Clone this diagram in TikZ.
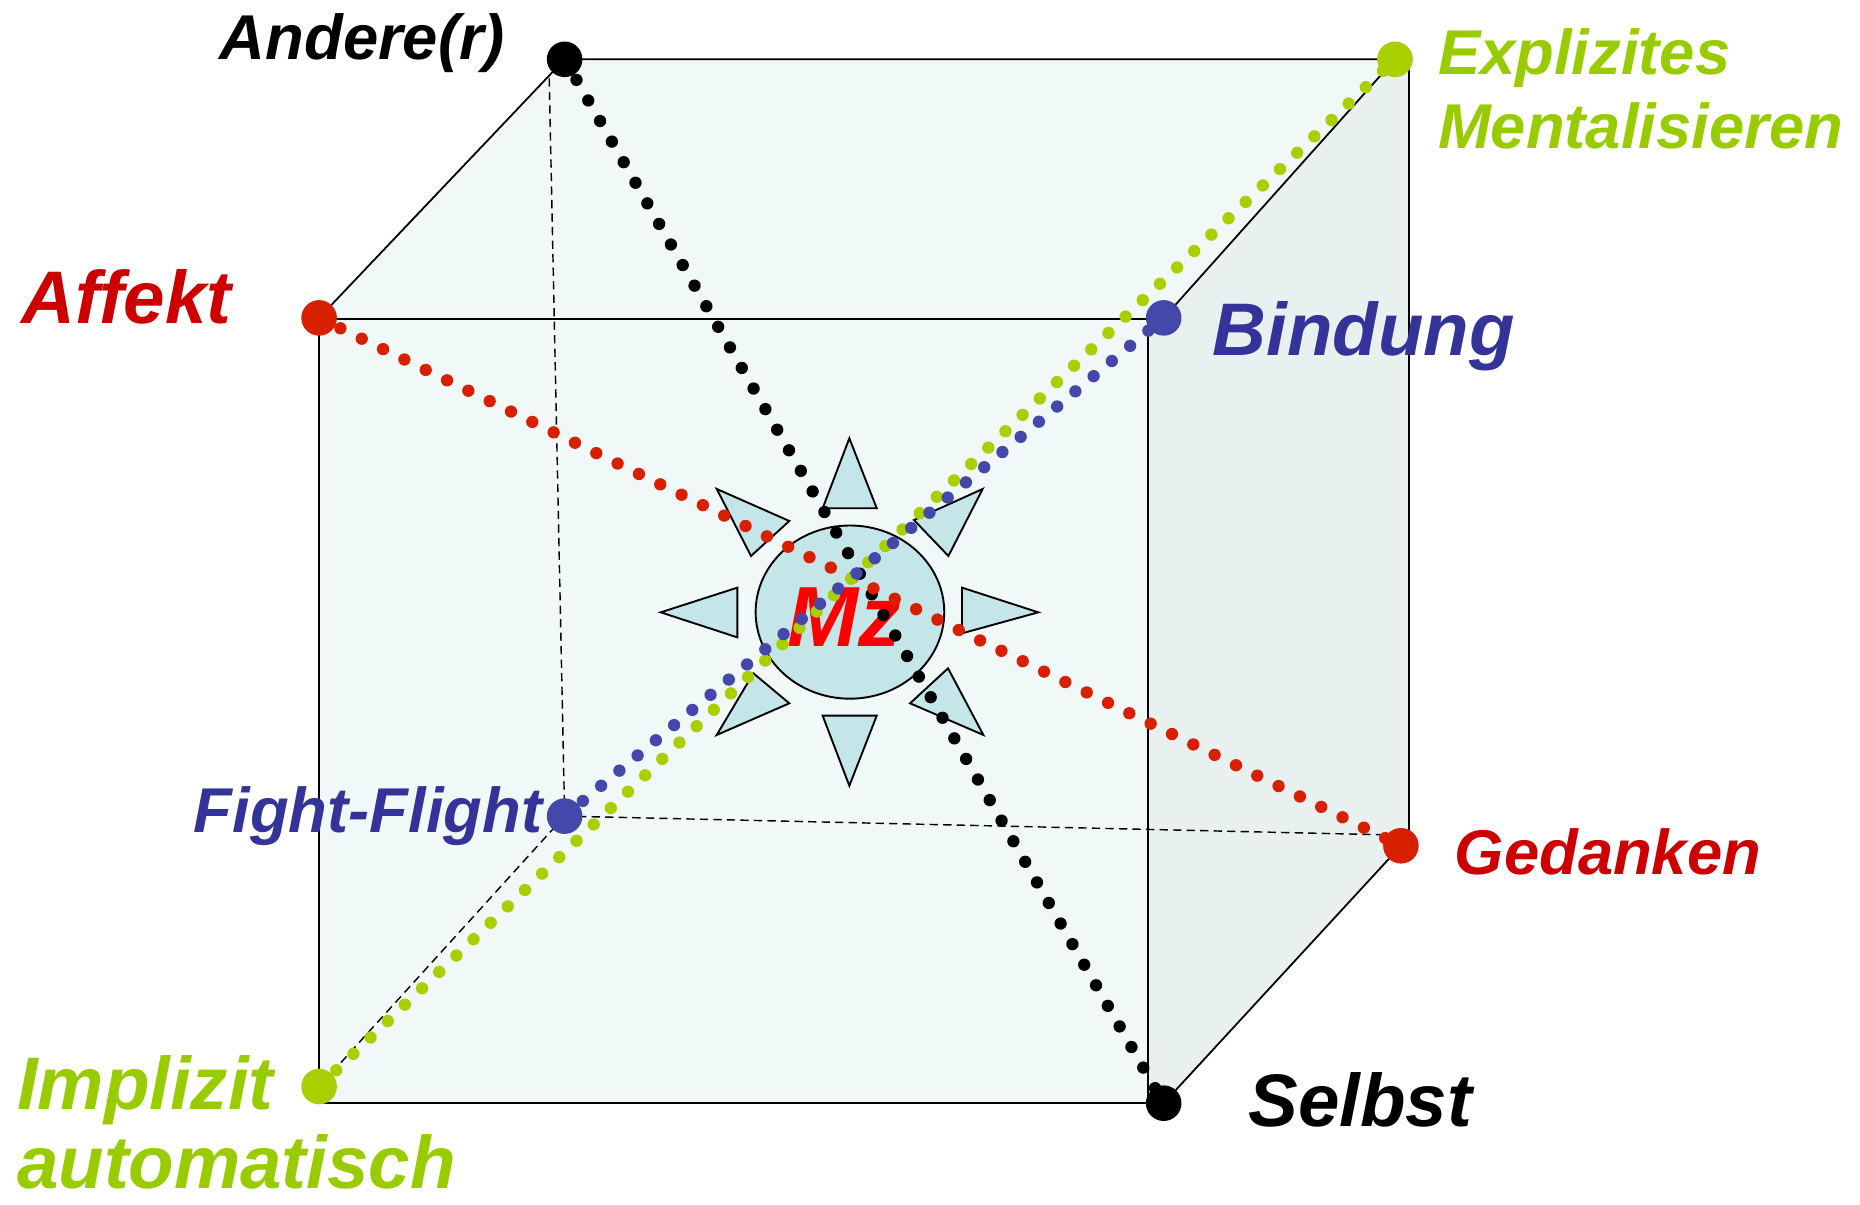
\documentclass[tikz,border=0pt]{standalone}
\usepackage{fontspec}
\setmainfont{Liberation Sans}
\usetikzlibrary{shapes.geometric}

\definecolor{cubefill}{RGB}{241,248,248}
\definecolor{sidefill}{RGB}{232,240,240}
\definecolor{corefill}{RGB}{197,230,232}
\definecolor{dotred}{RGB}{216,32,0}
\definecolor{txtred}{RGB}{204,0,0}
\definecolor{dotblue}{RGB}{68,72,170}
\definecolor{txtblue}{RGB}{51,51,153}
\definecolor{dotgreen}{RGB}{168,208,0}
\definecolor{txtgreen}{RGB}{153,204,0}

\tikzset{
  cubeedge/.style={draw=black, line width=0.75pt},
  hiddenedge/.style={draw=black, line width=0.6pt, dash pattern=on 3.5pt off 2.2pt},
  dotline/.style={line width=5.2pt, line cap=round, dash pattern=on 0pt off 10pt},
  enddot/.style={circle, inner sep=0pt, minimum size=15pt},
  ray/.style={draw=black, line width=0.8pt, fill=corefill, line join=miter},
  lbl/.style={inner sep=0pt, anchor=base west},
  bigfont/.style={font=\fontsize{31.4pt}{36pt}\selectfont\bfseries\itshape},
  midfont/.style={font=\fontsize{26.7pt}{32pt}\selectfont\bfseries\itshape},
}

\begin{document}
\begin{tikzpicture}[x=0.5pt, y=-0.5pt]
\useasboundingbox (0,0) rectangle (1568,1015);

% cube corners
\coordinate (fTL) at (269,269);
\coordinate (fTR) at (968,269);
\coordinate (fBR) at (968,930);
\coordinate (fBL) at (269,930);
\coordinate (bTR) at (1188,56);
\coordinate (bBR) at (1188,706);

% corner markers (positions only)
\node[enddot] (andere)  at (476,50)  {};
\node[enddot] (explz)   at (1176,50) {};
\node[enddot] (affekt)  at (269,268) {};
\node[enddot] (bindung) at (981,268) {};
\node[enddot] (fight)   at (476,688) {};
\node[enddot] (gedank)  at (1181,713) {};
\node[enddot] (implz)   at (269,916) {};
\node[enddot] (selbst)  at (981,930) {};

% cube faces
\fill[cubefill] (affekt.center) -- (andere.center) -- (explz.center) -- (bTR) -- (bBR)
  -- (gedank.center) -- (selbst.center) -- (fBL) -- cycle;
\fill[sidefill] (fTR) -- (bindung.center) -- (explz.center) -- (bTR) -- (bBR)
  -- (gedank.center) -- (selbst.center) -- (fBR) -- cycle;

% hidden edges
\draw[hiddenedge] (463,66) -- (fight.center);
\draw[hiddenedge] (fight.center) -- (1178,704);
\draw[hiddenedge] (fight.center) -- (implz.center);

% visible edges
\draw[cubeedge] (fTL) -- (fTR) -- (fBR) -- (fBL) -- cycle;
\draw[cubeedge] (fBR) -- (selbst.center);
\draw[cubeedge] (affekt.center) -- (andere.center) -- (explz.center);
\draw[cubeedge] (bindung.center) -- (explz.center);
\draw[cubeedge] (bTR) -- (bBR);
\draw[cubeedge] (selbst.center) -- (gedank.center);

% core with its rays
\draw[ray] (716,369.5) -- (739.1,428.5) -- (693.5,428.5) -- cycle;
\draw[ray] (716,662.4) -- (739.1,603.3) -- (693.5,603.3) -- cycle;
\draw[ray] (557,516.2) -- (621.6,495.4) -- (621.6,537.3) -- cycle;
\draw[ray] (875.3,516.2) -- (811,495.4) -- (811,533.9) -- cycle;
\draw[ray] (604.2,412.2) -- (665.4,439.2) -- (633.1,468.7) -- cycle;
\draw[ray] (828.4,412.2) -- (770.5,438.4) -- (799.5,468.7) -- cycle;
\draw[ray] (604.2,619.6) -- (635.1,567.6) -- (665.4,592.9) -- cycle;
\draw[ray] (829,619.6) -- (799.2,563.4) -- (767.2,592.9) -- cycle;
\node[ellipse, draw=black, line width=0.8pt, fill=corefill, inner sep=0pt,
      minimum width=79.5pt, minimum height=73pt] (core) at (716.5,516) {};
\node[inner sep=0pt, anchor=base, text=red,
      font=\fontsize{36pt}{40pt}\selectfont\bfseries\itshape] (mz) at (712,545) {Mz};

% dotted axes
\draw[dotline, black]    (andere.center) -- (selbst.center);
\draw[dotline, dotred]   (affekt.center) -- (gedank.center);
\draw[dotline, dotgreen] (implz.center)  -- (explz.center);
\draw[dotline, dotblue]  (fight.center)  -- (bindung.center);

% axis end points
\fill[black]    (andere)  circle[radius=7.5pt];
\fill[dotgreen] (explz)   circle[radius=7.5pt];
\fill[dotred]   (affekt)  circle[radius=7.5pt];
\fill[dotblue]  (bindung) circle[radius=7.5pt];
\fill[dotblue]  (fight)   circle[radius=7.5pt];
\fill[dotred]   (gedank)  circle[radius=7.5pt];
\fill[dotgreen] (implz)   circle[radius=7.5pt];
\fill[black]    (selbst)  circle[radius=7.5pt];

% labels
\node[lbl, midfont, text=black]    (tAndere)  at (185,50)   {Andere(r)};
\node[lbl, midfont, text=txtgreen] (tExpl)    at (1212,63)  {Explizites};
\node[lbl, midfont, text=txtgreen] (tMental)  at (1212,125) {Mentalisieren};
\node[lbl, bigfont, text=txtred]   (tAffekt)  at (18,273)   {Affekt};
\node[lbl, bigfont, text=txtblue]  (tBindung) at (1022,300) {Bindung};
\node[lbl, midfont, text=txtblue]  (tFight)   at (163,702)  {Fight-Flight};
\node[lbl, midfont, text=txtred]   (tGedank)  at (1226,737) {Gedanken};
\node[lbl, bigfont, text=black]    (tSelbst)  at (1052,950) {Selbst};
\node[lbl, bigfont, text=txtgreen] (tImpl)    at (14,935)   {Implizit};
\node[lbl, bigfont, text=txtgreen] (tAuto)    at (14,1002)  {automatisch};
\end{tikzpicture}
\end{document}
